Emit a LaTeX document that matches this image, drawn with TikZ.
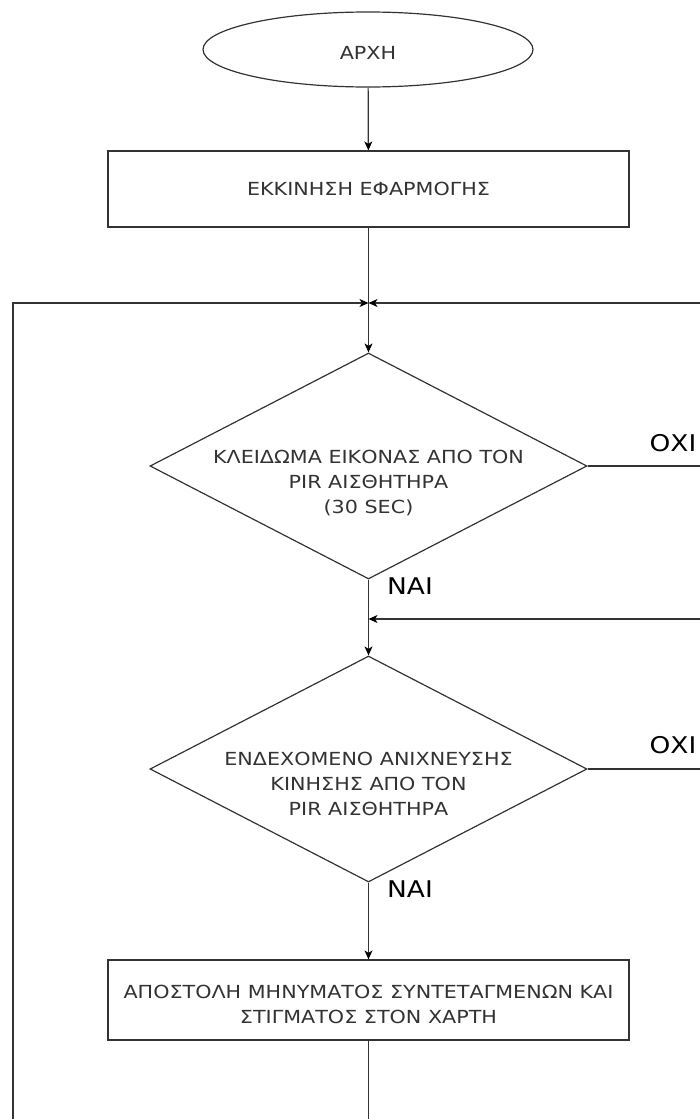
\documentclass[tikz,border=0pt]{standalone}
\usepackage{fontspec}
\setmainfont{DejaVu Sans}[FakeStretch=1.15]
\usetikzlibrary{shapes.geometric,arrows.meta}
\definecolor{ink}{HTML}{333333}
\begin{document}
\begin{tikzpicture}[x=1pt,y=-1pt,
  flow/.style={draw=ink, line width=1.2pt},
  arrow/.style={flow, -{Stealth[length=9pt,width=8pt,inset=2.5pt,color=black]}},
  txt/.style={text=ink, font=\fontsize{18}{25}\selectfont, align=center, inner sep=0pt},
  tag/.style={text=black, font=\fontsize{23}{26}\selectfont, inner sep=0pt},
  term/.style={flow, ellipse, minimum width=330pt, minimum height=75pt, inner sep=0pt, txt, text height=19pt, text depth=0pt},
  proc/.style={flow, rectangle, minimum width=521pt, inner sep=0pt},
  decision/.style={flow, diamond, minimum width=437pt, minimum height=226pt, inner sep=0pt}
]
\useasboundingbox (0,0) rectangle (700,1119);

% shapes
\node[term] (start) at (368,49.5) {ΑΡΧΗ};
\node[proc, txt, minimum height=76pt] (init) at (368.5,189) {ΕΚΚΙΝΗΣΗ ΕΦΑΡΜΟΓΗΣ};
\node[decision] (d1) at (368.5,466) {};
\node[txt] (d1t) at (368.5,483) {ΚΛΕΙΔΩΜΑ ΕΙΚΟΝΑΣ ΑΠΟ ΤΟΝ\\PIR ΑΙΣΘΗΤΗΡΑ\\(30 SEC)};
\node[decision] (d2) at (368.5,769) {};
\node[txt] (d2t) at (368.5,784) {ΕΝΔΕΧΟΜΕΝΟ ΑΝΙΧΝΕΥΣΗΣ\\ΚΙΝΗΣΗΣ ΑΠΟ ΤΟΝ\\PIR ΑΙΣΘΗΤΗΡΑ};
\node[proc, minimum height=80pt] (send) at (368.5,1000) {};
\node[txt] (sendt) at (368.5,1004) {ΑΠΟΣΤΟΛΗ ΜΗΝΥΜΑΤΟΣ ΣΥΝΤΕΤΑΓΜΕΝΩΝ ΚΑΙ\\ΣΤΙΓΜΑΤΟΣ ΣΤΟΝ ΧΑΡΤΗ};

% junction and loose ends
\coordinate (join) at (368.5,303);
\coordinate (loopL) at (13,303);
\coordinate (loopLb) at (13,1119);
\coordinate (loopR) at (700,303);
\coordinate (rejoin) at (368.5,619);
\coordinate (rejoinR) at (700,619);
\coordinate (d1R) at (700,466);
\coordinate (d2R) at (700,769);
\coordinate (sendB) at (368.5,1119);

% connectors
\draw[arrow] (start) -- (init);
\draw[arrow] (init) -- (d1);
\draw[arrow] (loopLb) -- (loopL) -- (join);
\draw[arrow] (loopR) -- (join);
\draw[flow] (d1.east) -- (d1R);
\draw[arrow] (d1) -- (d2);
\draw[arrow] (rejoinR) -- (rejoin);
\draw[flow] (d2.east) -- (d2R);
\draw[arrow] (d2) -- (send);
\draw[flow] (send) -- (sendB);

% branch labels
\node[tag] (no1) at (673,443) {ΟΧΙ};
\node[tag] (yes1) at (410,586) {ΝΑΙ};
\node[tag] (no2) at (673,745) {ΟΧΙ};
\node[tag] (yes2) at (410,889) {ΝΑΙ};
\end{tikzpicture}
\end{document}
